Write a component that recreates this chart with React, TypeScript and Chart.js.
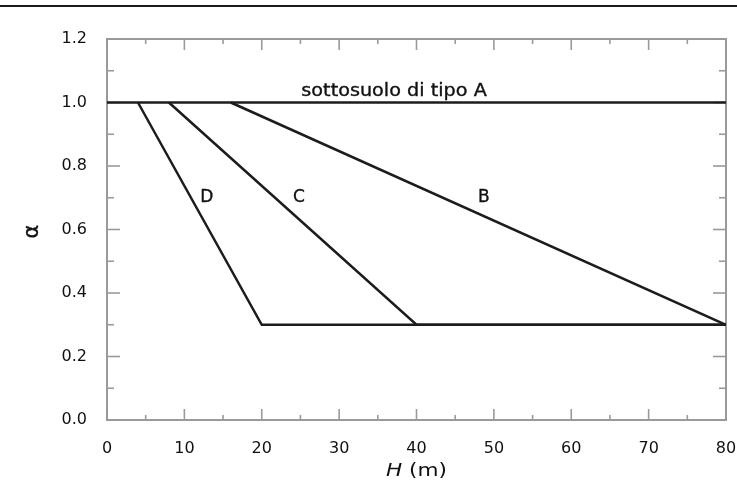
import React, { useEffect, useRef } from 'react';
import { Chart, registerables } from 'chart.js';

Chart.register(...registerables);

// ---- data ----
const xTicks = [0, 10, 20, 30, 40, 50, 60, 70, 80];
const xMinorTicks = [5, 15, 25, 35, 45, 55, 65, 75];
const yTicks = [0, 0.2, 0.4, 0.6, 0.8, 1.0, 1.2];
const yTickLabels = ['0.0', '0.2', '0.4', '0.6', '0.8', '1.0', '1.2'];
const yMinorTicks = [0.1, 0.3, 0.5, 0.7, 0.9, 1.1];

const soilA_H = [0, 80];
const soilA_alpha = [1.0, 1.0];
const soilB_H = [16, 80];
const soilB_alpha = [1.0, 0.3];
const soilC_H = [8, 40, 80];
const soilC_alpha = [1.0, 0.3, 0.3];
const soilD_H = [4, 20, 80];
const soilD_alpha = [1.0, 0.3, 0.3];

const annotationTexts = ['sottosuolo di tipo A', 'B', 'C', 'D'];
const annotationH = [37.1, 48.7, 24.8, 12.9];
const annotationAlpha = [1.02, 0.687, 0.687, 0.687];

const xTitleMain = 'H';
const xTitleUnit = ' (m)';
const yTitle = 'α';

const FONT = '"DejaVu Sans", "Liberation Sans", sans-serif';

const toPoints = (xs: number[], ys: number[]) => xs.map((v, i) => ({ x: v, y: ys[i] }));

const decorPlugin = {
  id: 'decor',
  beforeDatasetsDraw(chart: any) {
    const { ctx, chartArea: a, scales } = chart;
    const x = scales.x;
    const y = scales.y;
    ctx.save();
    ctx.strokeStyle = '#9a9a9a';
    ctx.lineWidth = 2;
    ctx.strokeRect(a.left, a.top, a.right - a.left, a.bottom - a.top);
    const seg = (x1: number, y1: number, x2: number, y2: number) => {
      ctx.beginPath();
      ctx.moveTo(x1, y1);
      ctx.lineTo(x2, y2);
      ctx.stroke();
    };
    ctx.lineWidth = 1.6;
    xTicks.forEach((v) => {
      const p = x.getPixelForValue(v);
      seg(p, a.bottom, p, a.bottom - 11);
      seg(p, a.top, p, a.top + 11);
    });
    xMinorTicks.forEach((v) => {
      const p = x.getPixelForValue(v);
      seg(p, a.bottom, p, a.bottom - 5);
      seg(p, a.top, p, a.top + 5);
    });
    yTicks.forEach((v) => {
      const p = y.getPixelForValue(v);
      seg(a.left, p, a.left + 13, p);
      seg(a.right, p, a.right - 13, p);
    });
    yMinorTicks.forEach((v) => {
      const p = y.getPixelForValue(v);
      seg(a.left, p, a.left + 7, p);
      seg(a.right, p, a.right - 7, p);
    });
    ctx.restore();
  },
  afterDatasetsDraw(chart: any) {
    const { ctx, chartArea: a, scales } = chart;
    const x = scales.x;
    const y = scales.y;
    ctx.save();
    // top rule
    ctx.strokeStyle = '#1a1a1a';
    ctx.lineWidth = 2.2;
    ctx.beginPath();
    ctx.moveTo(0, 6);
    ctx.lineTo(chart.width, 6);
    ctx.stroke();

    ctx.fillStyle = '#111';
    ctx.strokeStyle = '#111';
    ctx.lineWidth = 0.35;
    ctx.textAlign = 'center';
    ctx.textBaseline = 'alphabetic';
    annotationTexts.forEach((t, i) => {
      const px = x.getPixelForValue(annotationH[i]);
      const py = y.getPixelForValue(annotationAlpha[i]);
      ctx.font = `17px ${FONT}`;
      const sx = i === 0 ? 1.13 : 1.0;
      ctx.save();
      ctx.translate(px, py);
      ctx.scale(sx, 1);
      ctx.fillText(t, 0, 0);
      ctx.strokeText(t, 0, 0);
      ctx.restore();
    });

    // x title: italic H + (m)
    ctx.textAlign = 'left';
    ctx.textBaseline = 'middle';
    const cx = (a.left + a.right) / 2;
    const ty = 471;
    ctx.font = `italic 18px ${FONT}`;
    const w1 = ctx.measureText(xTitleMain).width;
    ctx.font = `18px ${FONT}`;
    const w2 = ctx.measureText(xTitleUnit).width;
    const sxT = 1.2;
    ctx.save();
    ctx.translate(cx - ((w1 + w2) * sxT) / 2, ty);
    ctx.scale(sxT, 1);
    ctx.font = `italic 18px ${FONT}`;
    ctx.fillText(xTitleMain, 0, 0);
    ctx.font = `18px ${FONT}`;
    ctx.fillText(xTitleUnit, w1, 0);
    ctx.restore();

    // y title
    ctx.save();
    ctx.translate(33, y.getPixelForValue(0.6) + 2);
    ctx.rotate(-Math.PI / 2);
    ctx.textAlign = 'center';
    ctx.textBaseline = 'middle';
    ctx.font = `21px ${FONT}`;
    ctx.fillText(yTitle, 0, 0);
    ctx.strokeText(yTitle, 0, 0);
    ctx.restore();
    ctx.restore();
  },
};

export default function App() {
  const ref = useRef<HTMLCanvasElement | null>(null);
  useEffect(() => {
    document.body.style.margin = '0';
    const canvas = ref.current;
    if (!canvas) return;
    const lineStyle = {
      borderColor: '#1c1c1c',
      borderWidth: 2.5,
      pointRadius: 0,
      fill: false,
      tension: 0,
    };
    const chart = new Chart(canvas, {
      type: 'line',
      data: {
        datasets: [
          { label: 'A', data: toPoints(soilA_H, soilA_alpha), ...lineStyle },
          { label: 'B', data: toPoints(soilB_H, soilB_alpha), ...lineStyle },
          { label: 'C', data: toPoints(soilC_H, soilC_alpha), ...lineStyle },
          { label: 'D', data: toPoints(soilD_H, soilD_alpha), ...lineStyle },
        ],
      },
      options: {
        animation: false,
        responsive: false,
        devicePixelRatio: 1,
        layout: { padding: { top: 39, right: 11, left: 0, bottom: 0 } },
        plugins: {
          legend: { display: false },
          tooltip: { enabled: false },
          title: { display: false },
        },
        scales: {
          x: {
            type: 'linear',
            min: 0,
            max: 80,
            grid: { display: false, drawTicks: false },
            border: { display: false },
            afterBuildTicks: (s: any) => {
              s.ticks = xTicks.map((v) => ({ value: v }));
            },
            afterFit: (s: any) => {
              s.height = 61;
              s.paddingLeft = 0;
              s.paddingRight = 0;
            },
            ticks: {
              padding: 19,
              color: '#111',
              font: { family: FONT, size: 16 },
              maxRotation: 0,
              autoSkip: false,
              callback: (v: any, i: number) => String(xTicks[i]),
            },
          },
          y: {
            type: 'linear',
            min: 0,
            max: 1.2,
            grid: { display: false, drawTicks: false },
            border: { display: false },
            afterBuildTicks: (s: any) => {
              s.ticks = yTicks.map((v) => ({ value: v }));
            },
            afterFit: (s: any) => {
              s.width = 107;
              s.paddingTop = 0;
              s.paddingBottom = 0;
            },
            ticks: {
              padding: 20,
              color: '#111',
              font: { family: FONT, size: 16 },
              autoSkip: false,
              callback: (v: any, i: number) => yTickLabels[i],
            },
          },
        },
      },
      plugins: [decorPlugin],
    } as any);
    return () => chart.destroy();
  }, []);
  return (
    <div style={{ position: 'absolute', left: 0, top: 0, width: 737, height: 481 }}>
      <canvas ref={ref} width={737} height={481} style={{ display: 'block' }} />
    </div>
  );
}
